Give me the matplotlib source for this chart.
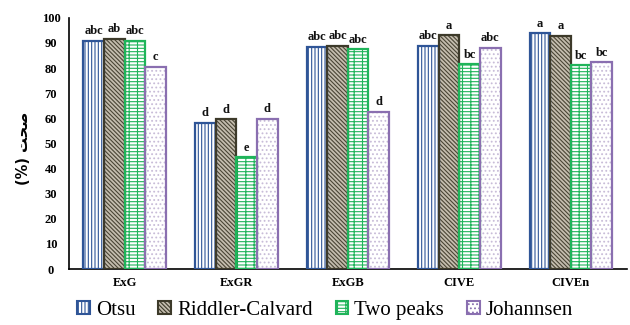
import matplotlib
matplotlib.use("Agg")
import matplotlib.pyplot as plt
import numpy as np
from matplotlib.patches import Patch

categories = ["ExG", "ExGR", "ExGB", "CIVE", "CIVEn"]
series_names = ["Otsu", "Riddler-Calvard", "Two peaks", "Johannsen"]
otsu = [90.8, 58.2, 88.6, 89.0, 93.8]
riddler = [91.5, 59.6, 89.0, 93.0, 92.8]
two_peaks = [90.8, 44.5, 87.5, 81.5, 81.1]
johannsen = [80.5, 59.8, 62.7, 88.0, 82.3]
letters_otsu = ["abc", "d", "abc", "abc", "a"]
letters_riddler = ["ab", "d", "abc", "a", "a"]
letters_two = ["abc", "e", "abc", "bc", "bc"]
letters_joh = ["c", "d", "d", "abc", "bc"]
yticks = [0, 10, 20, 30, 40, 50, 60, 70, 80, 90, 100]
ylabel = "(%) \uFE96\uFEA4\uFEBB"  # صحت (%)

plt.rcParams['font.family'] = ['Liberation Serif', 'DejaVu Sans']
plt.rcParams['hatch.linewidth'] = 0.8

fig = plt.figure(figsize=(6.3, 3.25), dpi=100)
ax = fig.add_axes([0.1095, 0.172, 0.885, 0.773])

data = [otsu, riddler, two_peaks, johannsen]
letters = [letters_otsu, letters_riddler, letters_two, letters_joh]
edge = ["#2f5597", "#3d3a2a", "#1fb45a", "#8a6fb0"]
face = ["white", "#c4bdae", "white", "white"]
hatch_col = ["#2f5597", "#4a4535", "#1fb45a", "#c8bcd8"]
hatches = ["|||||", "\\\\\\\\\\\\\\\\", "---++", "...."]

x = np.arange(len(categories))
w = 0.185
offsets = (np.arange(4) - 1.5) * w
for i in range(4):
    xs = x + offsets[i]
    ax.bar(xs, data[i], width=w, color=face[i], edgecolor=hatch_col[i],
           hatch=hatches[i], linewidth=0, zorder=2)
    ax.bar(xs, data[i], width=w, facecolor="none", edgecolor=edge[i],
           linewidth=1.6, zorder=3)
    for xx, v, t in zip(xs, data[i], letters[i]):
        ax.text(xx, v + 1.5, t, ha="center", va="bottom", fontsize=9,
                fontweight="bold", color="#111111")

ax.set_xlim(-0.5, 4.5)
ax.set_ylim(0, 100)
ax.set_yticks(yticks)
ax.set_yticklabels([str(t) for t in yticks], fontweight="bold", fontsize=9)
ax.set_xticks(x)
ax.set_xticklabels(categories, fontweight="bold", fontsize=9)
ax.tick_params(axis="x", length=0, pad=6)
ax.tick_params(axis="y", length=0, pad=13)
for lab in ax.get_yticklabels():
    lab.set_horizontalalignment("center")
for s in ["top", "right"]:
    ax.spines[s].set_visible(False)
ax.spines["left"].set_linewidth(1.2)
ax.spines["bottom"].set_linewidth(1.2)

ax.set_ylabel(ylabel, fontsize=10.5, fontweight="bold", family=['DejaVu Sans'])
ax.yaxis.set_label_coords(-0.068, 0.48)

handles = [Patch(facecolor=face[i], edgecolor=edge[i], hatch=hatches[i], linewidth=1.5)
           for i in range(4)]
fig.legend(handles, series_names, loc="center", bbox_to_anchor=(0.516, 0.045),
           ncol=4, frameon=False, prop={'family': 'Liberation Serif', 'size': 15},
           handlelength=0.6, handleheight=0.6,
           handletextpad=0.3, columnspacing=1.1, borderpad=0)

fig.savefig("out.png", dpi=100)
